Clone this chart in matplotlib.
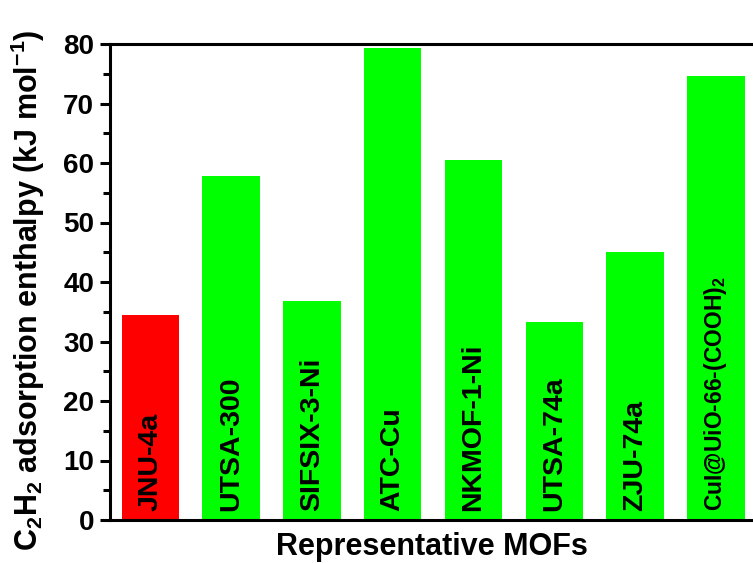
import matplotlib
matplotlib.use("Agg")
import matplotlib.pyplot as plt
from matplotlib.ticker import MultipleLocator

plt.rcParams["font.family"] = ["Liberation Sans", "DejaVu Sans"]
plt.rcParams["font.weight"] = "bold"
plt.rcParams["mathtext.fontset"] = "custom"
plt.rcParams["mathtext.rm"] = "Liberation Sans:bold"
plt.rcParams["mathtext.it"] = "Liberation Sans:bold"
plt.rcParams["mathtext.bf"] = "Liberation Sans:bold"

# Data
materials = ["JNU-4a", "UTSA-300", "SIFSIX-3-Ni", "ATC-Cu", "NKMOF-1-Ni",
             "UTSA-74a", "ZJU-74a", "CuI@UiO-66-(COOH)$_2$"]
enthalpy = [34.5, 57.8, 36.8, 79.3, 60.5, 33.2, 45.1, 74.6]
bar_colors = ["#ff0000"] + ["#00ff00"] * 7
y_ticks = [0, 10, 20, 30, 40, 50, 60, 70, 80]

fig = plt.figure(figsize=(7.53, 5.63), dpi=100)
ax = fig.add_axes([110 / 753, 43 / 563, 1 - 110 / 753, (520 - 44) / 563])

x = list(range(len(materials)))
ax.bar(x, enthalpy, width=0.71, color=bar_colors, edgecolor="none", zorder=2)

# names written upright inside each bar; the long composite name is set smaller
for xi, name in zip(x, materials):
    size = 16.5 if len(name) > 15 else 20.5
    ax.text(xi, 1.5, name, rotation=90, ha="center", va="bottom",
            fontsize=size, fontweight="bold", color="black", zorder=3)

ax.set_xlim(-0.5, 7.46)
ax.set_ylim(0, 80)
ax.set_yticks(y_ticks)
ax.yaxis.set_minor_locator(MultipleLocator(5))
ax.set_xticks([])

for side in ("left", "bottom", "top"):
    ax.spines[side].set_linewidth(2.2)
ax.spines["right"].set_visible(False)

ax.tick_params(axis="y", which="major", direction="out", length=7.5, width=2.2,
               labelsize=20, pad=4)
ax.tick_params(axis="y", which="minor", direction="out", length=5, width=2.2)
for lbl in ax.get_yticklabels():
    lbl.set_fontweight("bold")

ax.set_xlabel("Representative MOFs", fontsize=22, fontweight="bold", labelpad=9)
ax.set_ylabel("C$_2$H$_2$ adsorption enthalpy (kJ mol$^{-1}$)", fontsize=22,
              fontweight="bold")
ax.yaxis.set_label_coords(-0.098, 0.483)

fig.savefig("out.png", dpi=100)
